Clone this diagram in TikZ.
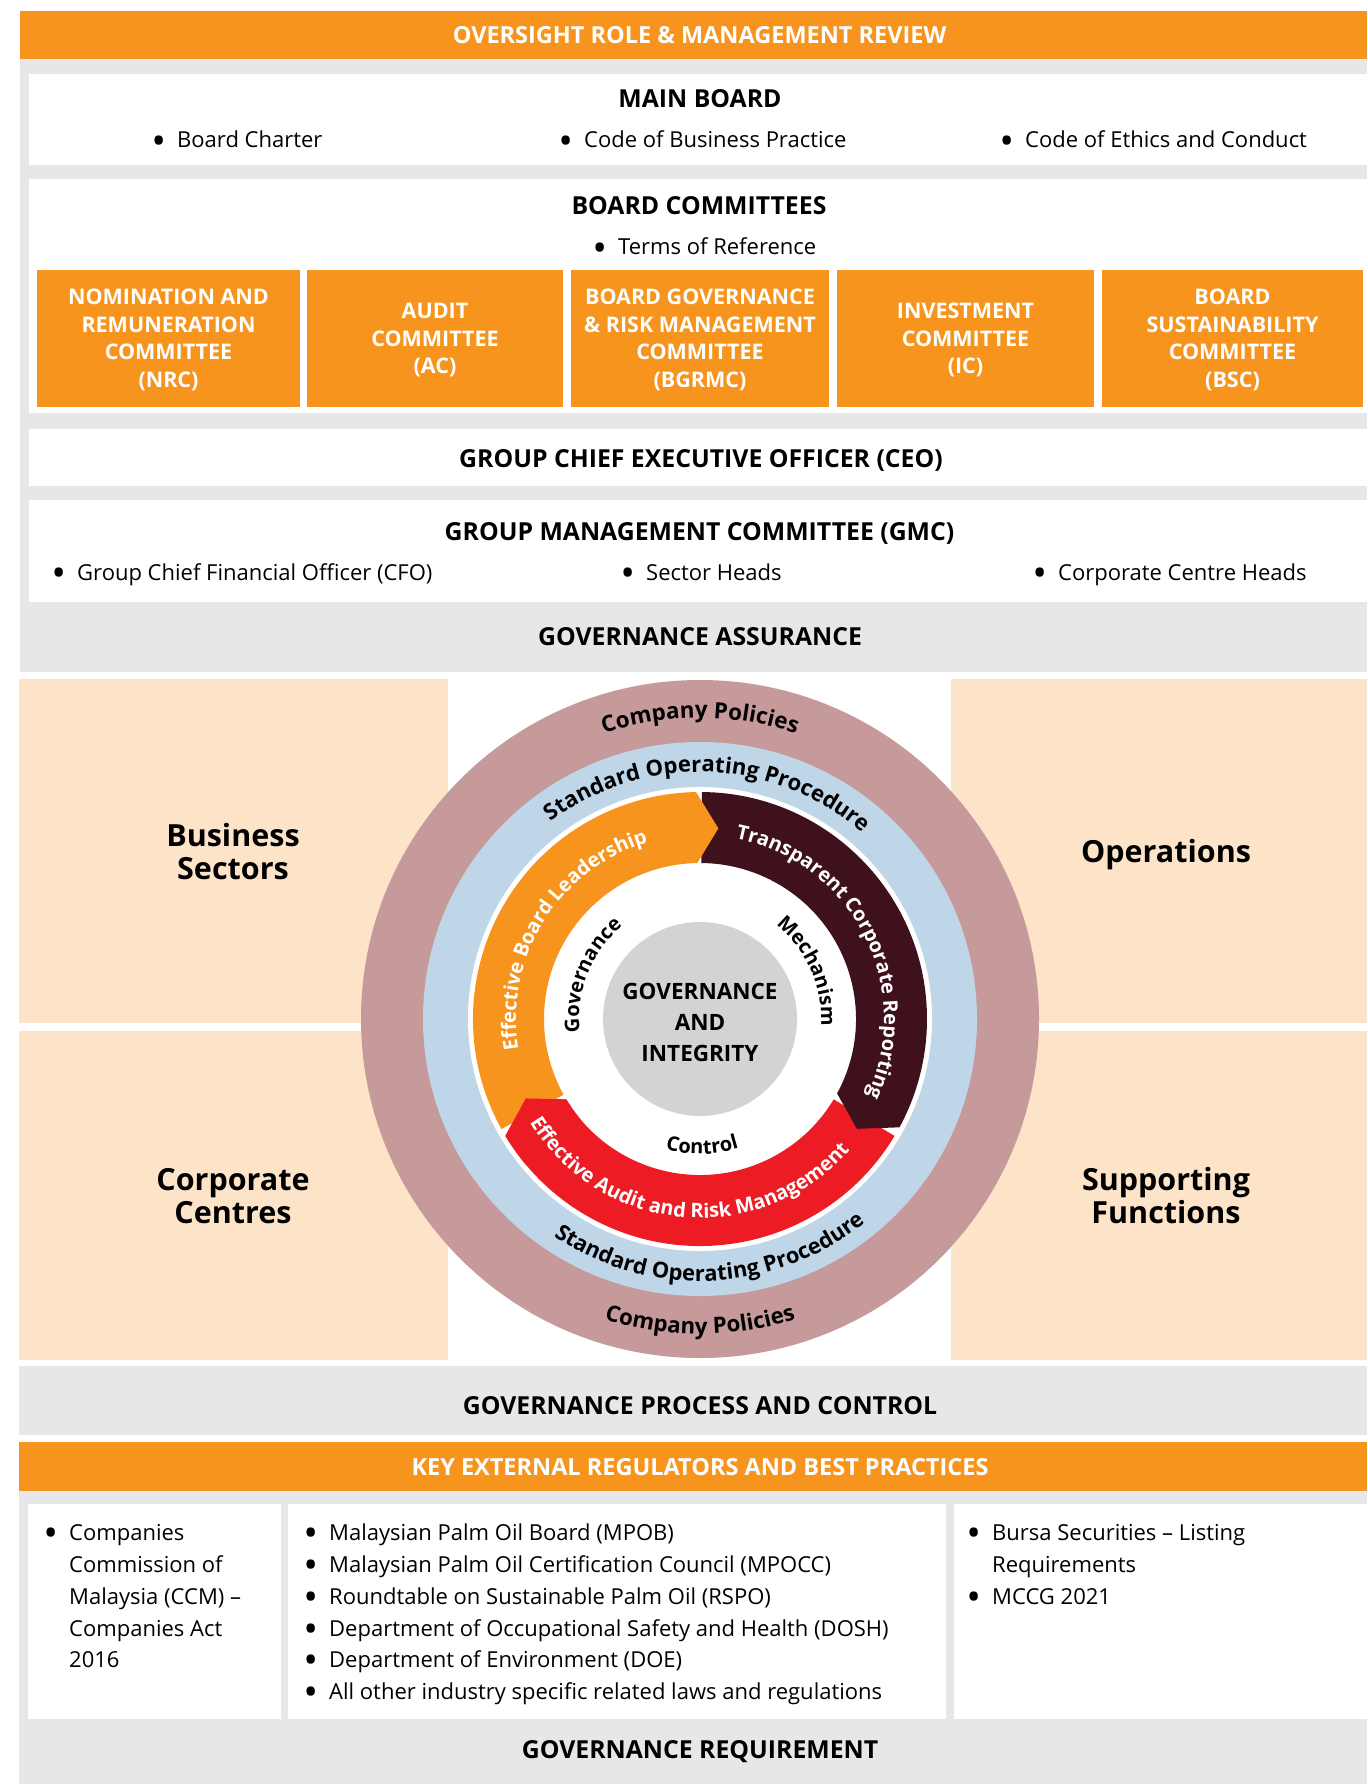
\documentclass[tikz,border=0pt]{standalone}
\usepackage{fontspec}
\setmainfont{Open Sans}
\usetikzlibrary{decorations.text}
\definecolor{orng}{HTML}{F7941D}
\definecolor{lgrey}{HTML}{E6E7E8}
\definecolor{peach}{HTML}{FDE4C9}
\definecolor{mauve}{HTML}{C69A9B}
\definecolor{lblue}{HTML}{BFD5E8}
\definecolor{darkmar}{HTML}{3E111D}
\definecolor{arred}{HTML}{ED1C24}
\definecolor{cgrey}{HTML}{D1D3D4}
\newcommand{\fs}[2]{\fontsize{#1}{#2}\selectfont}
\newcommand{\bul}{\makebox[22pt][l]{\hspace{-2pt}\raisebox{-3.5pt}{\fs{30}{30}\bfseries •}}}
\begin{document}
\begin{tikzpicture}[x=1pt,y=1pt,
  hdr/.style={inner sep=0pt, font=\fs{24.8}{28}\bfseries, text=black, anchor=base},
  wtitle/.style={inner sep=0pt, font=\fs{23.5}{28}\bfseries, text=white, anchor=base},
  body/.style={inner sep=0pt, font=\fs{22}{26}, text=black, anchor=base west},
  cbox/.style={inner sep=0pt, font=\fs{21.5}{27.8}\bfseries, text=white, align=center},
  big/.style={inner sep=0pt, font=\fs{30.5}{33}\bfseries, text=black, anchor=base},
  ctr/.style={inner sep=0pt, font=\fs{22.5}{31}\bfseries, text=black, align=center},
  arctext/.style n args={3}{decorate, decoration={text along path, text align=center, text color=#1, text={|\fs{#2}{#2}\bfseries|#3}}},
]
\useasboundingbox (0,0) rectangle (1367,-1784);
\fill[white] (0,0) rectangle (1367,-1784);
% top section
\fill[orng] (19.5,-11) rectangle (1367,-59);
\fill[lgrey] (19.5,-59) rectangle (1367,-672);
\fill[white] (29,-74) rectangle (1367,-165);
\fill[white] (29,-179) rectangle (1367,-413);
\fill[orng] (37,-270) rectangle (300,-407);
\fill[orng] (307,-270) rectangle (563,-407);
\fill[orng] (571,-270) rectangle (829,-407);
\fill[orng] (837,-270) rectangle (1094,-407);
\fill[orng] (1102,-270) rectangle (1363,-407);
\fill[white] (29,-429) rectangle (1367,-486);
\fill[white] (29,-500) rectangle (1367,-602);
% peach boxes
\fill[peach] (19,-679) rectangle (448,-1023);
\fill[peach] (19,-1031) rectangle (448,-1360);
\fill[peach] (951,-679) rectangle (1367,-1023);
\fill[peach] (951,-1031) rectangle (1367,-1360);
% bottom section
\fill[lgrey] (19,-1366) rectangle (1367,-1435);
\fill[orng] (19,-1442) rectangle (1367,-1491);
\fill[lgrey] (19,-1491) rectangle (1367,-1784);
\fill[white] (28,-1504) rectangle (281,-1719);
\fill[white] (288,-1504) rectangle (946,-1719);
\fill[white] (954,-1504) rectangle (1367,-1719);

% texts top
\node[wtitle] (t1) at (699.5,-44) {OVERSIGHT ROLE \& MANAGEMENT REVIEW};
\node[hdr] (mb) at (700,-107.5) {MAIN BOARD};
\node[body] (mb1) at (155,-148) {\bul Board Charter};
\node[body] (mb2) at (562,-148) {\bul Code of Business Practice};
\node[body] (mb3) at (1003,-148) {\bul Code of Ethics and Conduct};
\node[hdr] (bc) at (699,-214.5) {BOARD COMMITTEES};
\node[body] (tor) at (596,-255) {\bul Terms of Reference};
\node[cbox] (nrc) at (168.5,-340) {NOMINATION AND\\REMUNERATION\\COMMITTEE\\(NRC)};
\node[cbox] (ac) at (435,-340) {AUDIT\\COMMITTEE\\(AC)};
\node[cbox] (bgrmc) at (700,-340) {BOARD GOVERNANCE\\\& RISK MANAGEMENT\\COMMITTEE\\(BGRMC)};
\node[cbox] (ic) at (965.5,-340) {INVESTMENT\\COMMITTEE\\(IC)};
\node[cbox] (bsc) at (1232.5,-340) {BOARD\\SUSTAINABILITY\\COMMITTEE\\(BSC)};
\node[hdr] (ceo) at (701,-467.5) {GROUP CHIEF EXECUTIVE OFFICER (CEO)};
\node[hdr] (gmc) at (699.5,-540) {GROUP MANAGEMENT COMMITTEE (GMC)};
\node[body] (g1) at (55,-580) {\bul Group Chief Financial Officer (CFO)};
\node[body] (g2) at (624,-580) {\bul Sector Heads};
\node[body] (g3) at (1036,-580) {\bul Corporate Centre Heads};
\node[hdr] (ga) at (700,-645) {GOVERNANCE ASSURANCE};

% side boxes
\node[big] (bs1) at (233,-846) {Business};
\node[big] (bs2) at (233,-879) {Sectors};
\node[big] (cc1) at (233,-1190) {Corporate};
\node[big] (cc2) at (233,-1223) {Centres};
\node[big] (op) at (1166,-862) {Operations};
\node[big] (sf1) at (1166,-1190) {Supporting};
\node[big] (sf2) at (1166,-1223) {Functions};

% circle
\begin{scope}[shift={(700,-1019)}]
\fill[mauve] (0,0) circle[radius=339];
\fill[lblue] (0,0) circle[radius=277];
\fill[white] (0,0) circle[radius=232];
\fill[arred] (-31:227) arc[start angle=-31,end angle=-149,radius=227] -- (-155.5:191.5) -- (-149:156) arc[start angle=-149,end angle=-31,radius=156] -- cycle;
\fill[darkmar] (89.5:227) arc[start angle=89.5,end angle=-28.5,radius=227] -- (-35:191.5) -- (-28.5:156) arc[start angle=-28.5,end angle=89.5,radius=156] -- cycle;
\fill[orng] (209:227) arc[start angle=209,end angle=91,radius=227] -- (84.5:191.5) -- (91:156) arc[start angle=91,end angle=209,radius=156] -- cycle;
\fill[arred] (-140:227) arc[start angle=-140,end angle=-149,radius=227] -- (-155.5:191.5) -- (-149:156) arc[start angle=-149,end angle=-140,radius=156] -- cycle;
\fill[cgrey] (0,0) circle[radius=97];
\node[ctr] (gai) at (0,-3) {GOVERNANCE\\AND\\INTEGRITY};
% ring texts
\path[arctext={black}{22.4}{Company Policies}] (150:301) arc[start angle=150,end angle=30,radius=301];
\path[arctext={black}{22.3}{Company Policies}] (210:315) arc[start angle=210,end angle=330,radius=315];
\path[arctext={black}{22.1}{Standard Operating Procedure}] (148:247) arc[start angle=148,end angle=28,radius=247];
\path[arctext={black}{21.9}{Standard Operating Procedure}] (212.6:262) arc[start angle=212.6,end angle=332.6,radius=262];
\path[arctext={white}{20}{Effective Board Leadership}] (208:184) arc[start angle=208,end angle=88,radius=184];
\path[arctext={white}{20}{Transparent Corporate Reporting}] (87:184) arc[start angle=87,end angle=-33,radius=184];
\path[arctext={white}{20}{Effective Audit and Risk Management}] (205:199) arc[start angle=205,end angle=325,radius=199];
\path[arctext={black}{20}{Governance}] (218:121) arc[start angle=218,end angle=98,radius=121];
\path[arctext={black}{20}{Mechanism}] (84:121) arc[start angle=84,end angle=-36,radius=121];
\path[arctext={black}{20}{Control}] (211:135) arc[start angle=211,end angle=331,radius=135];
\end{scope}

% bottom texts
\node[hdr] (gpc) at (700,-1414) {GOVERNANCE PROCESS AND CONTROL};
\node[wtitle] (key) at (700,-1475) {KEY EXTERNAL REGULATORS AND BEST PRACTICES};
\node[body] (l1) at (47,-1540) {\bul Companies};
\node[body] (l2) at (69,-1572) {Commission of};
\node[body] (l3) at (69,-1604) {Malaysia (CCM) --};
\node[body] (l4) at (69,-1636) {Companies Act};
\node[body] (l5) at (69,-1667) {2016};
\node[body] (m1) at (307,-1540) {\bul Malaysian Palm Oil Board (MPOB)};
\node[body] (m2) at (307,-1572) {\bul Malaysian Palm Oil Certification Council (MPOCC)};
\node[body] (m3) at (307,-1604) {\bul Roundtable on Sustainable Palm Oil (RSPO)};
\node[body] (m4) at (307,-1636) {\bul Department of Occupational Safety and Health (DOSH)};
\node[body] (m5) at (307,-1667) {\bul Department of Environment (DOE)};
\node[body] (m6) at (307,-1699) {\bul All other industry specific related laws and regulations};
\node[body] (r1) at (970,-1540) {\bul Bursa Securities -- Listing};
\node[body] (r2) at (992,-1572) {Requirements};
\node[body] (r3) at (970,-1604) {\bul MCCG 2021};
\node[hdr] (gr) at (700,-1758) {GOVERNANCE REQUIREMENT};
\end{tikzpicture}
\end{document}
